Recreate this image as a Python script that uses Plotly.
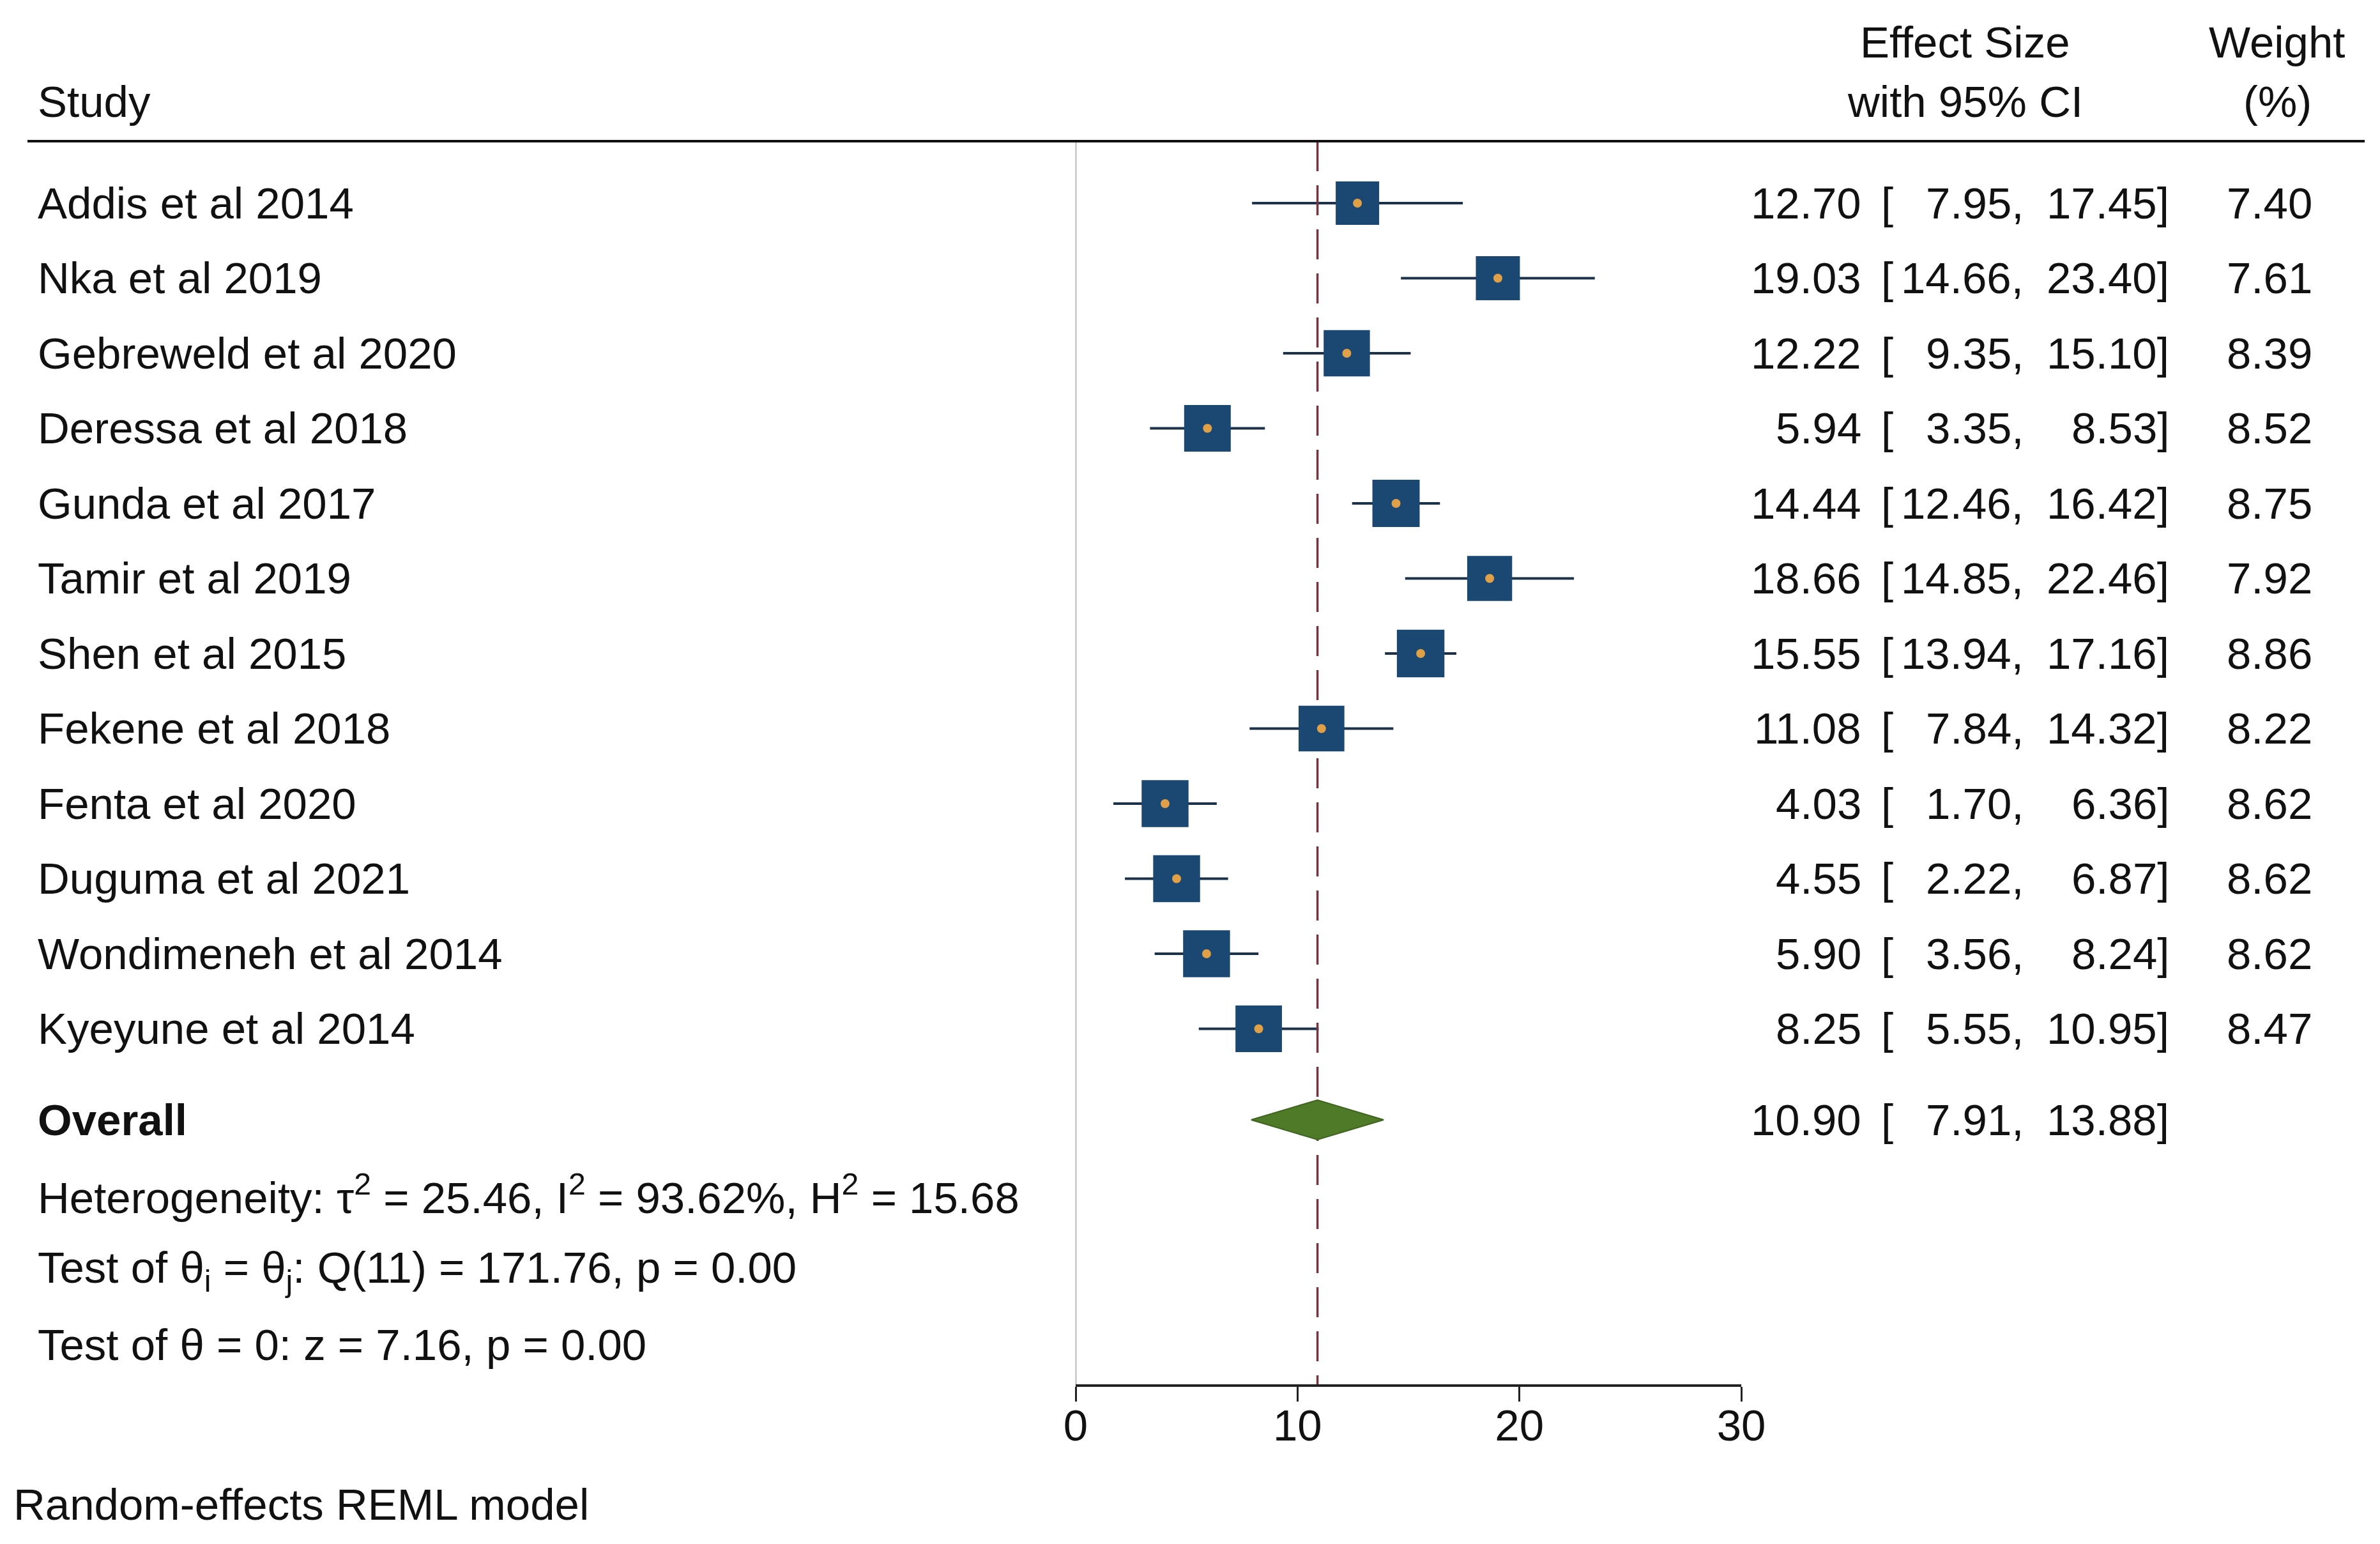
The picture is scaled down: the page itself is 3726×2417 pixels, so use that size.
import plotly.graph_objects as go

# ---------------- data ----------------
studies = ["Addis et al 2014", "Nka et al 2019", "Gebreweld et al 2020", "Deressa et al 2018",
           "Gunda et al 2017", "Tamir et al 2019", "Shen et al 2015", "Fekene et al 2018",
           "Fenta et al 2020", "Duguma et al 2021", "Wondimeneh et al 2014", "Kyeyune et al 2014"]
effect = [12.70, 19.03, 12.22, 5.94, 14.44, 18.66, 15.55, 11.08, 4.03, 4.55, 5.90, 8.25]
ci_low = [7.95, 14.66, 9.35, 3.35, 12.46, 14.85, 13.94, 7.84, 1.70, 2.22, 3.56, 5.55]
ci_high = [17.45, 23.40, 15.10, 8.53, 16.42, 22.46, 17.16, 14.32, 6.36, 6.87, 8.24, 10.95]
weight = [7.40, 7.61, 8.39, 8.52, 8.75, 7.92, 8.86, 8.22, 8.62, 8.62, 8.62, 8.47]
overall = [10.90, 7.91, 13.88]
x_ticks = [0, 10, 20, 30]
het_text = "Heterogeneity: τ<sup>2</sup> = 25.46, I<sup>2</sup> = 93.62%, H<sup>2</sup> = 15.68"
test1_text = "Test of θ<sub>i</sub> = θ<sub>j</sub>: Q(11) = 171.76, p = 0.00"
test2_text = "Test of θ = 0: z = 7.16, p = 0.00"
footnote = "Random-effects REML model"

# ---------------- layout geometry (pixels) ----------------
W, H = 3726, 2417
OFF = 8                  # compensates the page's body margin
AX_Y = 2167 - OFF        # pixel row of x axis line
X0_PX, X30_PX = 1684 - OFF, 2726 - OFF
ROW0, ROWSTEP = 318 - OFF, 117.5
HEADER_LINE = 221 - OFF
OVERALL_Y = 1753 - OFF
FONT = "Liberation Sans, Arial, Helvetica, sans-serif"
FS = 69
TXT = "#111111"

def px(x):
    return (x - OFF) / W

rows = [ROW0 + i * ROWSTEP for i in range(len(studies))]

fig = go.Figure()

# CI lines
for i in range(len(studies)):
    fig.add_trace(go.Scatter(x=[ci_low[i], ci_high[i]], y=[rows[i], rows[i]], mode="lines",
                             line=dict(color="#1b324a", width=4), hoverinfo="skip", showlegend=False))

# Reference lines (x = 0 and overall)
fig.add_trace(go.Scatter(x=[0, 0], y=[HEADER_LINE, AX_Y], mode="lines",
                         line=dict(color="#808080", width=2), hoverinfo="skip", showlegend=False))
fig.add_trace(go.Scatter(x=[overall[0], overall[0]], y=[HEADER_LINE, AX_Y], mode="lines",
                         line=dict(color="#743440", width=3.5, dash="47px,22px"),
                         hoverinfo="skip", showlegend=False))

# Weighted boxes
fig.add_trace(go.Scatter(x=effect, y=rows, mode="markers",
                         marker=dict(symbol="square", color="#1b4873", opacity=1,
                                     size=[25 * w ** 0.5 for w in weight],
                                     line=dict(width=0)),
                         hoverinfo="skip", showlegend=False))
# Point estimates
fig.add_trace(go.Scatter(x=effect, y=rows, mode="markers",
                         marker=dict(symbol="circle", color="#e0a048", size=14, opacity=1,
                                     line=dict(width=0)),
                         hoverinfo="skip", showlegend=False))

# Overall diamond
fig.add_trace(go.Scatter(x=[overall[1], overall[0], overall[2], overall[0], overall[1]],
                         y=[OVERALL_Y, OVERALL_Y - 31, OVERALL_Y, OVERALL_Y + 31, OVERALL_Y],
                         mode="lines", fill="toself", fillcolor="#4f7a28",
                         line=dict(color="#3e6420", width=2), hoverinfo="skip", showlegend=False))

# ---------------- text ----------------
ann = []

def add(text, x, y, anchor="left", bold=False, size=FS, yref="y"):
    ann.append(dict(text=f"<b>{text}</b>" if bold else text, x=px(x), y=y, xref="paper", yref=yref,
                    xanchor=anchor, yanchor="middle", showarrow=False,
                    font=dict(family=FONT, size=size, color=TXT)))

# headers
add("Study", 57, 159 - OFF)
add("Effect Size", 3076, 66 - OFF, "center")
add("with 95% CI", 3076, 159 - OFF, "center")
add("Weight", 3565, 66 - OFF, "center")
add("(%)", 3565, 159 - OFF, "center")

for i, s in enumerate(studies):
    y = rows[i]
    add(s, 57, y)
    add(f"{effect[i]:.2f}", 2916, y, "right")
    add("[", 2943, y)
    add(f"{ci_low[i]:.2f},", 3170, y, "right")
    add(f"{ci_high[i]:.2f}]", 3398, y, "right")
    add(f"{weight[i]:.2f}", 3622, y, "right")

add("Overall", 57, OVERALL_Y, bold=True)
add(f"{overall[0]:.2f}", 2916, OVERALL_Y, "right")
add("[", 2943, OVERALL_Y)
add(f"{overall[1]:.2f},", 3170, OVERALL_Y, "right")
add(f"{overall[2]:.2f}]", 3398, OVERALL_Y, "right")

add(het_text, 57, 1870 - OFF)
add(test1_text, 57, 1989 - OFF)
add(test2_text, 57, 2105 - OFF)
add(footnote, 19, (H - (2355 - OFF)) / H, yref="paper")

shapes = [dict(type="line", xref="paper", yref="y", x0=px(43), x1=px(3702),
               y0=HEADER_LINE, y1=HEADER_LINE, line=dict(color="#111111", width=4))]

fig.update_layout(
    width=W, height=H,
    margin=dict(l=0, r=0, t=0, b=0, pad=0, autoexpand=False),
    paper_bgcolor="white", plot_bgcolor="white",
    showlegend=False,
    annotations=ann, shapes=shapes,
    xaxis=dict(domain=[px(X0_PX + OFF), px(X30_PX + OFF)], range=[0, 30], tickvals=x_ticks,
               ticktext=[str(t) for t in x_ticks], automargin=False,
               showgrid=False, zeroline=False, showline=True, linecolor="#222222", linewidth=4,
               ticks="outside", ticklen=23, tickwidth=3, tickcolor="#222222",
               ticklabelstandoff=-22,
               tickfont=dict(family=FONT, size=FS, color=TXT)),
    yaxis=dict(domain=[(H - AX_Y) / H, 1], range=[AX_Y, 0], visible=False, automargin=False,
               showgrid=False, zeroline=False),
)

fig.write_html("out.html")
